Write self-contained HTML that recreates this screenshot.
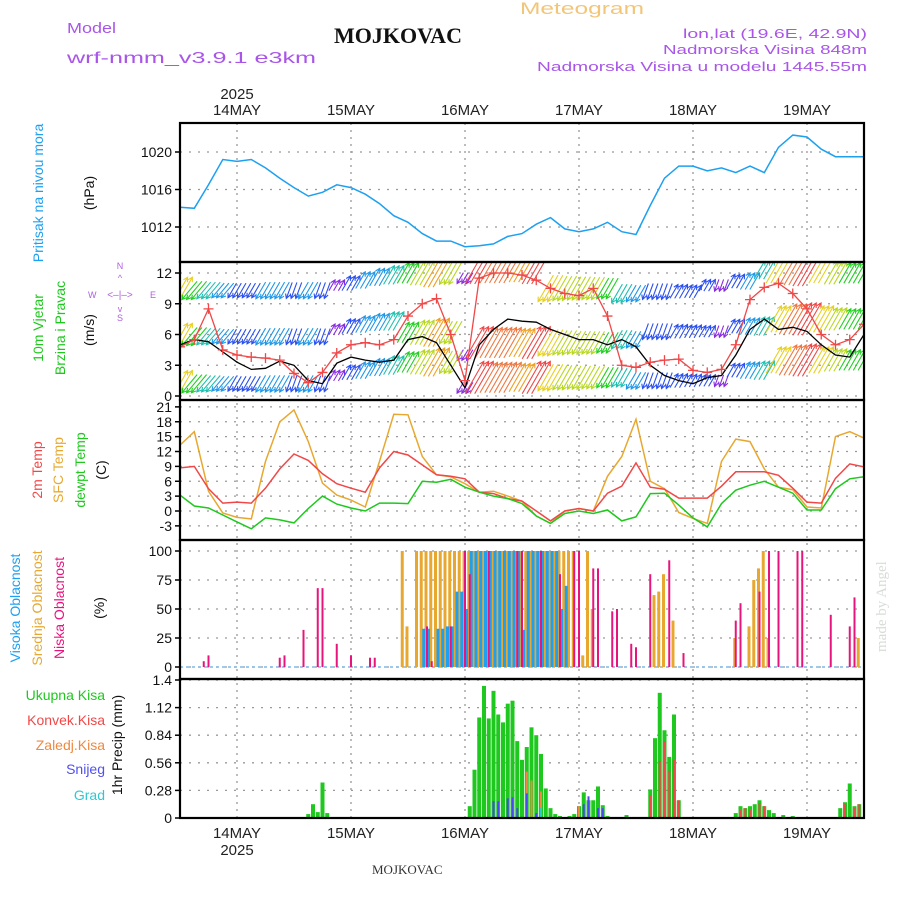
<!DOCTYPE html>
<html><head><meta charset="utf-8"><title>Meteogram MOJKOVAC</title>
<style>
html,body{margin:0;padding:0;background:#fff;}
svg{display:block;font-family:"Liberation Sans",sans-serif;}
</style></head>
<body>
<svg id="chart" width="900" height="900" viewBox="0 0 900 900" xmlns="http://www.w3.org/2000/svg">
<defs>
<clipPath id="clipP"><rect x="180" y="123" width="684" height="139"/></clipPath>
<clipPath id="clipW"><rect x="180" y="262" width="684" height="138"/></clipPath>
<clipPath id="clipT"><rect x="180" y="400" width="684" height="140"/></clipPath>
<clipPath id="clipC"><rect x="180" y="540" width="684" height="139"/></clipPath>
<clipPath id="clipR"><rect x="180" y="679" width="684" height="139"/></clipPath>
</defs>
<rect width="900" height="900" fill="#fff"/>
<g font-size="15">
<text x="67" y="33" fill="#a855e8" textLength="49" lengthAdjust="spacingAndGlyphs">Model</text>
<text x="67" y="63" fill="#a855e8" font-size="16" textLength="249" lengthAdjust="spacingAndGlyphs">wrf-nmm_v3.9.1 e3km</text>
<text x="398" y="43" text-anchor="middle" font-family="Liberation Serif,serif" font-weight="bold" font-size="22" fill="#111">MOJKOVAC</text>
<text x="520" y="14" fill="#f2c679" font-size="17" textLength="124" lengthAdjust="spacingAndGlyphs">Meteogram</text>
<text x="683" y="38" fill="#a855e8" font-size="13" textLength="184" lengthAdjust="spacingAndGlyphs">lon,lat (19.6E, 42.9N)</text>
<text x="663" y="54" fill="#a855e8" font-size="13" textLength="204" lengthAdjust="spacingAndGlyphs">Nadmorska Visina 848m</text>
<text x="537" y="71" fill="#a855e8" font-size="13" textLength="330" lengthAdjust="spacingAndGlyphs">Nadmorska Visina u modelu 1445.55m</text>
<text x="372" y="874" font-family="Liberation Serif,serif" font-size="13" fill="#333">MOJKOVAC</text>
<text transform="translate(886,652) rotate(-90)" fill="#d8dcd8" font-family="Liberation Serif,serif" font-size="15">made by Angel</text>
</g>
<g font-size="14">
<text transform="translate(43,193) rotate(-90)" text-anchor="middle" fill="#1ea0f0">Pritisak na nivou mora</text>
<text transform="translate(94,193) rotate(-90)" text-anchor="middle" fill="#111">(hPa)</text>
<text transform="translate(43,328) rotate(-90)" text-anchor="middle" fill="#1ec81e">10m Vjetar</text>
<text transform="translate(65,328) rotate(-90)" text-anchor="middle" fill="#1ec81e">Brzina i Pravac</text>
<text transform="translate(94,330) rotate(-90)" text-anchor="middle" fill="#111">(m/s)</text>
<g fill="#b060e0" font-size="9" stroke="none">
<text x="120" y="269" text-anchor="middle">N</text><text x="120" y="321" text-anchor="middle">S</text>
<text x="88" y="298">W</text><text x="150" y="298">E</text>
<text x="120" y="298" text-anchor="middle" font-size="10">&lt;–|–&gt;</text>
<text x="120" y="281" text-anchor="middle" font-size="9">^</text>
<text x="120" y="312" text-anchor="middle" font-size="9">v</text>
</g>
<text transform="translate(42,470) rotate(-90)" text-anchor="middle" fill="#f04848">2m Temp</text>
<text transform="translate(63,470) rotate(-90)" text-anchor="middle" fill="#e8a830">SFC Temp</text>
<text transform="translate(85,470) rotate(-90)" text-anchor="middle" fill="#1ec81e">dewpt Temp</text>
<text transform="translate(106,470) rotate(-90)" text-anchor="middle" fill="#111">(C)</text>
<text transform="translate(20,608) rotate(-90)" text-anchor="middle" fill="#1ea0f0">Visoka Oblacnost</text>
<text transform="translate(42,608) rotate(-90)" text-anchor="middle" fill="#e8a830">Srednja Oblacnost</text>
<text transform="translate(64,608) rotate(-90)" text-anchor="middle" fill="#e8147e">Niska Oblacnost</text>
<text transform="translate(104,608) rotate(-90)" text-anchor="middle" fill="#111">(%)</text>
<text x="105" y="700" text-anchor="end" fill="#1ec81e">Ukupna  Kisa</text>
<text x="105" y="725" text-anchor="end" fill="#f04848">Konvek.Kisa</text>
<text x="105" y="750" text-anchor="end" fill="#f08840">Zaledj.Kisa</text>
<text x="105" y="774" text-anchor="end" fill="#5050f0">Snijeg</text>
<text x="105" y="800" text-anchor="end" fill="#30c8d0">Grad</text>
<text transform="translate(122,745) rotate(-90)" text-anchor="middle" fill="#111">1hr Precip (mm)</text>
</g>
</svg>
<script>
// ---------- data (3-hourly from 13MAY 12UTC) ----------
const dayLabels = ['14MAY','15MAY','16MAY','17MAY','18MAY','19MAY'];
const dayHours = [12,36,60,84,108,132];
const pressureTicks = [1012,1016,1020];
const windTicks = [0,3,6,9,12];
const tempTicks = [-3,0,3,6,9,12,15,18,21];
const cloudTicks = [0,25,50,75,100];
const precipTicks = ['0','0.28','0.56','0.84','1.12','1.4'];

const pressure = [1014.1,1014.0,1016.5,1019.2,1019.0,1019.2,1018.3,1017.2,1016.2,1015.3,1015.7,1016.5,1016.2,1015.5,1014.5,1013.2,1012.5,1011.3,1010.5,1010.5,1009.9,1010.0,1010.2,1011.0,1011.3,1012.3,1013.0,1011.8,1011.5,1011.8,1012.5,1011.5,1011.2,1014.3,1017.2,1018.5,1018.5,1018.0,1018.3,1017.8,1018.5,1017.8,1020.5,1021.8,1021.6,1020.3,1019.5,1019.5,1019.5];

const windMean = [5,5.5,5.3,4.3,3.3,2.6,2.7,3.4,3,1.5,1.2,3.2,3.8,3.5,3.3,3.5,5.5,5.8,5.2,3,0.8,5,6.5,7.5,7.3,7.2,6.5,6,5.5,5.5,5,5.5,4.8,3,2,1.5,1.2,1.8,2,4,6.5,7.5,6.5,6.7,6.3,5,4,3.8,6];
const windGust = [4.8,5.5,8.5,4.5,4.0,3.8,3.7,3.5,2.2,1.3,2.3,4.2,5,5.2,5.0,5.5,7.8,9.0,9.5,6,1.5,11.5,12,12,11.8,11.3,10.5,10,9.8,10.5,7.8,3,2.8,3.3,3.5,3.6,2.5,2.3,2.6,5,9.4,10.6,11,10,8.5,6,5,5.5,7];
const windSpeed = [5,3.5,3,2.5,2,2,2.5,2.5,2,2.5,2,1,2,2.5,2.7,3,3.5,4.5,5.5,4,1,6.5,6,6,5.5,6.5,5,4.5,4.2,4,3.5,3,2.5,2,2,1.8,1.5,1.2,1,1.8,2.5,3,5,6,6.5,5,4,3.5,3.5];
const windDir = [60,230,230,230,240,240,240,240,250,240,250,60,60,60,60,60,60,60,60,240,240,60,60,60,60,60,240,240,240,240,240,240,240,250,250,60,60,60,250,60,60,60,60,60,60,60,60,60,60];
const bandA = [10.3,10.3,10.3,10.3,10.3,10.3,10.3,10.3,10.3,10.3,10.3,10.8,11,11.3,11.6,11.8,12,12,12,12,11.5,12.5,12.5,12.5,12.5,12.5,10.5,10.5,10.5,10.5,10.5,10,10,10.2,10.2,10.2,10.2,10.8,10.8,11.2,11.2,12.3,12.3,12.3,12.3,12.3,12,12,12];
const bandB = [5.8,5.8,5.8,5.8,5.8,5.8,5.8,5.8,5.8,5.8,5.8,6.5,6.8,7,7.2,7.3,6.2,6.2,6.2,6.2,4,5.2,5.2,5.2,5.2,5.2,5.2,5.2,5.2,5.2,5.2,5.5,5.5,6.3,6.3,6.3,6.3,6.3,6.3,6.8,6.8,6.8,7.5,7.5,7.5,7.5,7.5,7.5,7.5];
const bandC = [1.2,1.2,1.2,1.2,1.2,1.2,1.2,1.2,1.2,1.2,1.2,2,2.3,2.5,2.8,3,3.3,3.3,3.3,3.3,0.8,1.8,1.8,1.8,1.8,1.8,1.8,1.8,1.8,1.8,1.8,1.8,1.5,1.5,1.5,1.5,1.5,1.5,1.5,2.5,2.5,2.5,3.5,3.5,3.5,3.5,3.5,3.5,3.5];

const tempSfc = [13.3,16,4,-0.4,-1.3,-1.6,10,18,20.4,14,5.6,3.2,2.2,0.8,10,19.5,19.4,11,7.3,6.9,5.5,3.8,4,3,2,-1,-2.5,0,0.5,0,7,11,18.5,6,4.5,-0.3,-1.5,-2.5,10,14.5,14,8.5,4.8,4.3,0.8,0.6,15,16,14.7];
const temp2m = [8.7,9,4.5,1.6,1.8,1.6,4.6,8.5,11.5,10.2,7.5,5.5,4.6,3.8,8.7,12,11.3,9.3,7.3,7,6.5,3.8,3.5,2.5,2,0,-2,0,0.5,0,3.6,5,9.7,4.8,4.4,2.6,2.6,2.6,5,7.9,7.9,7.9,7.2,4.6,1.8,1.6,6.6,9.5,8.9];
const tempDew = [3.2,1,0.6,-0.8,-2.2,-3.6,-1.4,-1.8,-2.4,0.5,3,1.4,0.6,0,1.6,1.6,1.5,6,5.8,6.4,4.8,3.8,3,2.5,1.5,-1,-2.5,-0.5,0,-0.5,0.2,-2,-1.2,3.5,3.6,1.2,-1.4,-3.2,1.5,4.2,5.2,6,4.8,3.6,0.2,0.2,4.5,6.5,6.9];

// cloud cover (hourly index from 13MAY 12UTC, %)
const midHours = [47,48,50,51,52,53,54,55,56,57,58,59,60,61,62,63,64,65,66,67,68,69,70,71,72,73,74,75,76,77,78,79,80,81,82,83,85,86,87,100,101,102,104,117,120,121,122,123,124,143];
const midVals  = [100,35,100,100,100,100,100,100,100,100,100,100,100,100,100,100,100,100,100,100,100,100,100,100,100,100,100,100,100,100,100,100,100,100,100,100,10,100,50,62,65,80,40,25,35,75,85,100,25,25];
const highHours = [51,52,54,55,56,57,58,59,60,61,62,63,64,65,66,67,68,69,70,71,72,73,74,75,76,77,78,79,80,81];
const highVals  = [33,33,33,33,35,35,65,65,50,100,100,100,100,100,100,100,100,100,100,100,32,100,100,100,100,100,100,100,50,70];
const lowHours = [5,6,21,22,26,29,30,33,36,40,41,52,53,57,60,61,65,71,72,76,80,83,84,87,88,91,92,95,96,99,103,106,117,118,122,124,126,130,131,137,141,142];
const lowVals  = [5,10,8,10,32,68,68,20,10,8,8,35,5,35,100,80,100,100,100,100,80,100,100,85,85,48,50,20,17,80,92,12,40,55,65,100,100,100,100,45,35,60];

// precipitation (hourly index, mm)
const totalHours = [27,28,29,30,31,61,62,63,64,65,66,67,68,69,70,71,72,73,74,75,76,77,78,79,80,82,83,84,85,86,87,88,89,90,94,99,100,101,102,103,104,105,117,118,119,120,121,122,123,124,125,127,129,139,140,141,142,143];
const totalVals  = [0.04,0.14,0.06,0.36,0.05,0.12,0.49,1.02,1.34,1.01,1.29,1.05,0.97,1.16,1.19,0.78,0.59,0.72,0.92,0.84,0.65,0.30,0.10,0.04,0.02,0.02,0.04,0.12,0.26,0.18,0.18,0.32,0.13,0.02,0.03,0.29,0.81,1.27,0.89,0.62,1.05,0.18,0.05,0.12,0.1,0.12,0.14,0.18,0.12,0.08,0.05,0.03,0.02,0.1,0.16,0.35,0.12,0.14];
const convHours = [99,101,102,103,104,105,118,119,120,122,123,140,142,143];
const convVals  = [0.23,0.58,0.78,0.48,0.59,0.18,0.08,0.1,0.08,0.15,0.12,0.14,0.1,0.14];
const frzHours = [73,74,76,84,86];
const frzVals  = [0.47,0.38,0.27,0.12,0.05];
const snowHours = [66,67,69,70,71,73,75,85,86,88,89];
const snowVals  = [0.17,0.17,0.2,0.21,0.1,0.25,0.05,0.14,0.22,0.1,0.1];
const hailHours = [76];
const hailVals  = [0.1];

// ---------- axes ----------
const NS='http://www.w3.org/2000/svg';
const svg=document.getElementById('chart');
const X0=180, X1=864, PXH=4.75;
const xh = h => X0 + h*PXH;
const xi = i => xh(i*3);
const yP = v => 227-(v-1012)*9.375;
const yW = v => 396-v*10.25;
const yT = v => 511-v*4.958;
const yC = v => 667-v*1.16;
const yR = v => 818-v*98.57;
function mk(tag, attrs, parent){const e=document.createElementNS(NS,tag);for(const k in attrs)e.setAttribute(k,attrs[k]);(parent||svg).appendChild(e);return e;}
function group(clip){const g=mk('g',clip?{'clip-path':'url(#'+clip+')'}:{});return g;}

const grid=group();


const panels=[[123,262],[262,400],[400,540],[540,679],[679,818]];
dayHours.forEach(h=>{
  const l=mk('line',{x1:xh(h),x2:xh(h),y1:123,y2:818,stroke:'#999','stroke-width':1.3,'stroke-dasharray':'2,5'},grid);
  
  
});
function hTicks(ticks,yf,labels,name){
  ticks.forEach((t,i)=>{
    const y=yf(+t);
    const l=mk('line',{x1:X0,x2:X1,y1:y,y2:y,stroke:'#999','stroke-width':1.3,'stroke-dasharray':'2,7'},grid);
    
    
    const tk=mk('line',{x1:X0-5,x2:X0,y1:y,y2:y,stroke:'#000','stroke-width':1.5},grid);
    
    
    const tx=mk('text',{x:X0-8,y:y+5,'text-anchor':'end','font-size':14,fill:'#111'},grid);
    tx.textContent=labels?labels[i]:t;
    
    
  });
}
hTicks(pressureTicks,yP,null,'pressure');
hTicks(windTicks,yW,null,'wind');
hTicks(tempTicks,yT,null,'temp');
hTicks(cloudTicks,yC,null,'cloud');
hTicks(precipTicks,yR,null,'precip');
dayLabels.forEach((d,i)=>{
  const x=xh(dayHours[i]);
  const t=mk('text',{x:x,y:115,'text-anchor':'middle','font-size':15,fill:'#222'},grid);
  t.textContent=d;
  
  
  const b=mk('text',{x:x,y:838,'text-anchor':'middle','font-size':15,fill:'#222'},grid);
  b.textContent=d;
  
  
});
const yTop=mk('text',{x:xh(dayHours[0]),y:99,'text-anchor':'middle','font-size':15,fill:'#222'},grid);
yTop.textContent='2025';


const yBot=mk('text',{x:xh(dayHours[0]),y:855,'text-anchor':'middle','font-size':15,fill:'#222'},grid);
yBot.textContent='2025';



function linePath(arr,yf){return arr.map((v,i)=>(i?'L':'M')+xi(i).toFixed(1)+','+yf(v).toFixed(1)).join('');}

const gP=group('clipP');
const pl=mk('path',{d:linePath(pressure,yP),fill:'none',stroke:'#1ea0f0','stroke-width':1.5},gP);



function spdColor(s){
  if(s<1.2)return '#8a2be2'; if(s<2.2)return '#2a50f0'; if(s<2.8)return '#2098e8';
  if(s<3.3)return '#20c0b0'; if(s<4)return '#20d020'; if(s<4.6)return '#b8d820';
  if(s<5.2)return '#e8d020'; if(s<5.8)return '#f0a020'; if(s<6.3)return '#f07840';
  if(s<6.8)return '#f04848'; return '#e82080';
}
const gW=group('clipW');


[bandA,bandB,bandC].forEach((band,bi)=>{
  for(let h=0;h<=144;h++){
    const i=Math.round(h/3);
    const s=windSpeed[i], a=windDir[i]*Math.PI/180, L=8+s*4.5;
    const cx=xh(h), cy=yW(band[i]);
    const dx=Math.cos(a)*L, dy=-Math.sin(a)*L;
    const x1=cx-dx/2,y1=cy-dy/2,x2=cx+dx/2,y2=cy+dy/2;
    const ha=Math.atan2(y2-y1,x2-x1);
    const d='M'+x1.toFixed(1)+','+y1.toFixed(1)+'L'+x2.toFixed(1)+','+y2.toFixed(1)+
      'M'+(x2-5*Math.cos(ha-0.5)).toFixed(1)+','+(y2-5*Math.sin(ha-0.5)).toFixed(1)+'L'+x2.toFixed(1)+','+y2.toFixed(1)+
      'L'+(x2-5*Math.cos(ha+0.5)).toFixed(1)+','+(y2-5*Math.sin(ha+0.5)).toFixed(1);
    const ar=mk('path',{d:d,fill:'none',stroke:spdColor(s),'stroke-width':1.1},gW);
    
    
  }
});
const wm=mk('path',{d:linePath(windMean,yW),fill:'none',stroke:'#000','stroke-width':1.3},gW);


const wg=mk('path',{d:linePath(windGust,yW),fill:'none',stroke:'#f04848','stroke-width':1.3},gW);


windGust.forEach((v,i)=>{
  const x=xi(i),y=yW(v);
  const m=mk('path',{d:`M${x-5},${y}H${x+5}M${x},${y-5}V${y+5}`,stroke:'#f04848','stroke-width':1.3},gW);
  
  
});

const gT=group('clipT');
[[tempSfc,'#e8a830','sfc-temp-line'],[temp2m,'#f04848','temp-2m-line'],[tempDew,'#1ec81e','dewpoint-line']].forEach(s=>{
  const p=mk('path',{d:linePath(s[0],yT),fill:'none',stroke:s[1],'stroke-width':1.5},gT);
  
  
});

const gC=group('clipC');
const base=mk('line',{x1:X0,x2:X1,y1:yC(0),y2:yC(0),stroke:'#7fb8e8','stroke-width':1.5,'stroke-dasharray':'3,3'},gC);


function bars(hours,vals,yf,color,w,off,name,g){
  hours.forEach((h,i)=>{
    const y=yf(vals[i]),y0=yf(0);
    const r=mk('rect',{x:xh(h)+off-w/2,y:y,width:w,height:Math.max(0,y0-y),fill:color},g);
    
    
  });
}
bars(midHours,midVals,yC,'#e8a830',3,-1,'mid-cloud-bar',gC);
bars(highHours,highVals,yC,'#1ea0f0',3,1.5,'high-cloud-bar',gC);
bars(lowHours,lowVals,yC,'#e8147e',2,0,'low-cloud-bar',gC);

const gR=group('clipR');
bars(totalHours,totalVals,yR,'#1ec81e',4,0,'total-precip-bar',gR);
bars(convHours,convVals,yR,'#f04848',2,0,'convective-precip-bar',gR);
bars(frzHours,frzVals,yR,'#f08840',2,0,'freezing-precip-bar',gR);
bars(snowHours,snowVals,yR,'#4a4af0',2,0,'snow-bar',gR);
bars(hailHours,hailVals,yR,'#30c8d0',2,0,'hail-bar',gR);

const fr=group();


panels.forEach(p=>{
  const r=mk('rect',{x:X0,y:p[0],width:X1-X0,height:p[1]-p[0],fill:'none',stroke:'#000','stroke-width':2.2},fr);
  
  
});
</script>
</body></html>
